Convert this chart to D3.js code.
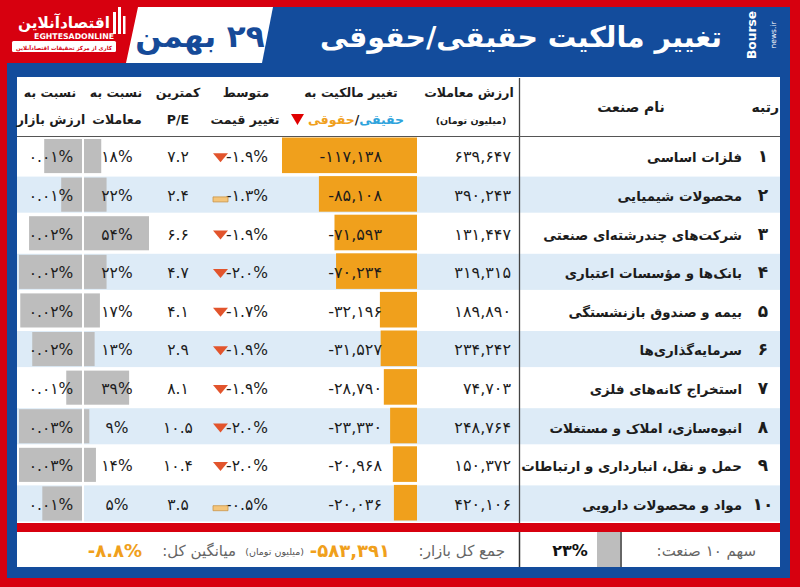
<!DOCTYPE html>
<html><head><meta charset="utf-8">
<script src="https://cdn.jsdelivr.net/npm/d3@7"></script>
<style>
body{margin:0;background:#d7000f}
svg{display:block}
text{font-family:"DejaVu Sans",sans-serif}
</style>
</head><body>
<svg id="c" width="800" height="587"></svg>
<script>
// ---------------- DATA ----------------
const ranks = [1,2,3,4,5,6,7,8,9,10];
const industries = [
  "فلزات اساسی",
  "محصولات شیمیایی",
  "شرکت\u200cهای چندرشته\u200cای صنعتی",
  "بانک\u200cها و مؤسسات اعتباری",
  "بیمه و صندوق بازنشستگی",
  "سرمایه\u200cگذاری\u200cها",
  "استخراج کانه\u200cهای فلزی",
  "انبوه\u200cسازی، املاک و مستغلات",
  "حمل و نقل، انبارداری و ارتباطات",
  "مواد و محصولات دارویی"
];
const tradeValue = [639647, 390243, 131447, 319315, 189890, 234242, 74703, 248764, 150372, 420106];
const ownershipChange = [-117138, -85108, -71593, -70234, -32196, -31527, -28790, -23330, -20968, -20036];
const priceChange = [-1.9, -1.3, -1.9, -2.0, -1.7, -1.9, -1.9, -2.0, -2.0, -0.5];
const minPE = [7.2, 2.4, 6.6, 4.7, 4.1, 2.9, 8.1, 10.5, 10.4, 3.5];
const tradeRatio = [18, 22, 54, 22, 17, 13, 39, 9, 14, 5];
const marketRatio = [0.01, 0.01, 0.02, 0.02, 0.02, 0.02, 0.01, 0.03, 0.03, 0.01];
const marketBarWeight = [0.60, 0.33, 0.84, 1.00, 0.98, 0.79, 0.25, 1.00, 1.00, 0.63];
const dateLabel = "۲۹ بهمن";
const titleLabel = "تغییر مالکیت حقیقی/حقوقی";
const top10Share = 23;
const marketTotal = -583391;
const overallAvg = -8.8;

// ---------------- STYLE ----------------
const RED = "#d7000f", BLUE = "#134c9c", ORANGE = "#f0a01c", GRAY = "#bdbdbd",
      LBLUE = "#ddebf7", TXT = "#1c1c1c";
const fa = s => String(s).replace(/\u2212/g, "-").replace(/[0-9]/g, d => "۰۱۲۳۴۵۶۷۸۹"[d]);
const rtl = s => "\u200F" + s + "\u200F";
const fitW = (sel, w) => { const fs = +sel.attr("font-size"); const m = sel.node().getComputedTextLength(); if (m > 0) sel.attr("font-size", fs * w / m); return sel; };

const svg = d3.select("#c");

// background frames
svg.append("rect").attr("width", 800).attr("height", 587).attr("fill", RED);
svg.append("rect").attr("x", 7).attr("y", 63).attr("width", 783).attr("height", 515).attr("fill", BLUE);
svg.append("polygon").attr("points", "262,7 790,7 790,64 252,64").attr("fill", BLUE);
svg.append("polygon").attr("points", "138,7 273,7 262,63 126,63").attr("fill", "#fff");

// left logo
const lg = svg.append("g");
fitW(lg.append("text").attr("x", 110).attr("y", 28).attr("text-anchor", "end")
  .attr("font-size", 22).attr("font-weight", "bold").attr("fill", "#fff").text("اقتصادآنلاین"), 92);
[[113,12,3,22],[118,7,3,27],[123,16,2.5,18]].forEach(r =>
  lg.append("rect").attr("x", r[0]).attr("y", r[1]).attr("width", r[2]).attr("height", r[3]).attr("fill", "#fff"));
fitW(lg.append("text").attr("x", 114).attr("y", 38.5).attr("text-anchor", "end")
  .attr("font-size", 8.5).attr("font-weight", "bold").attr("fill", "#fff").attr("font-family", "Roboto").text("EGHTESADONLINE"), 80);
lg.append("rect").attr("x", 12).attr("y", 41).attr("width", 104).attr("height", 11).attr("rx", 1.5).attr("fill", "#fff");
fitW(lg.append("text").attr("x", 64).attr("y", 49.5).attr("text-anchor", "middle")
  .attr("font-size", 7.5).attr("font-weight", "bold").attr("fill", RED).text("کاری از مرکز تحقیقات اقتصادآنلاین"), 96);

// date
svg.append("text").attr("x", 200).attr("y", 47).attr("text-anchor", "middle")
  .attr("font-size", 31).attr("font-weight", "bold").attr("fill", "#164a98").text(rtl(dateLabel));

// title
fitW(svg.append("text").attr("x", 722).attr("y", 47).attr("text-anchor", "end")
  .attr("font-size", 36).attr("font-weight", "bold").attr("fill", "#fff").text(titleLabel), 402);

// right logo
const rg = svg.append("g").attr("fill", "#fff");
fitW(rg.append("text").attr("transform", "translate(756,35) rotate(-90)").attr("text-anchor", "middle")
  .attr("font-size", 16).attr("font-weight", "bold").text("Bourse"), 48);
rg.append("text").attr("transform", "translate(776,35) rotate(-90)").attr("text-anchor", "middle")
  .attr("font-size", 7.5).text("news.ir");

// table white
svg.append("rect").attr("x", 17).attr("y", 77).attr("width", 763).attr("height", 446).attr("fill", "#fff");
// red separator and footer
svg.append("rect").attr("x", 17).attr("y", 523).attr("width", 763).attr("height", 9).attr("fill", RED);
svg.append("rect").attr("x", 17).attr("y", 532).attr("width", 763).attr("height", 35).attr("fill", "#fff");

// ---------------- SCALES ----------------
const y = d3.scaleBand().domain(ranks).range([137, 523]);
const bw = y.bandwidth();
const xOwn = d3.scaleLinear().domain([0, d3.max(ownershipChange, d => -d)]).range([417, 282]);
const xTrade = d3.scaleLinear().domain(d3.extent(tradeRatio)).range([84, 149]);
const xMkt = d3.scaleLinear().domain([0, d3.max(marketBarWeight)]).range([82, 19]);

const rows = ranks.map((r, i) => ({r, i}));
const g = svg.append("g");

// row backgrounds
g.selectAll(".bg").data(rows.filter(d => d.r % 2 === 0)).join("rect")
  .attr("x", 17).attr("width", 763).attr("y", d => y(d.r) + 1).attr("height", bw - 2.5).attr("fill", LBLUE);

// market ratio bars (right anchored)
g.selectAll(".mb").data(rows).join("rect")
  .attr("x", d => xMkt(marketBarWeight[d.i])).attr("width", d => 82 - xMkt(marketBarWeight[d.i]))
  .attr("y", d => y(d.r) + 2).attr("height", bw - 4.5).attr("fill", GRAY);
g.append("rect").attr("x", 82).attr("y", 137).attr("width", 2).attr("height", 386).attr("fill", "#fff");
// trade ratio bars (left anchored)
g.selectAll(".tb").data(rows).join("rect")
  .attr("x", 84).attr("width", d => xTrade(tradeRatio[d.i]) - 84)
  .attr("y", d => y(d.r) + 2).attr("height", bw - 4.5).attr("fill", GRAY);
// ownership change bars
g.selectAll(".ob").data(rows).join("rect")
  .attr("x", d => xOwn(-ownershipChange[d.i])).attr("width", d => 417 - xOwn(-ownershipChange[d.i]))
  .attr("y", d => y(d.r) + 0.5).attr("height", bw - 3).attr("fill", ORANGE);

const base = d => y(d.r) + bw / 2 + 6;

// texts
g.selectAll(".mt").data(rows).join("text")
  .attr("x", 51).attr("y", base).attr("text-anchor", "middle").attr("font-size", 15.5).attr("fill", TXT)
  .text(d => fa(marketRatio[d.i].toFixed(2)) + "%");
g.selectAll(".tt").data(rows).join("text")
  .attr("x", 117).attr("y", base).attr("text-anchor", "middle").attr("font-size", 15.5).attr("fill", TXT)
  .text(d => fa(tradeRatio[d.i]) + "%");
g.selectAll(".pe").data(rows).join("text")
  .attr("x", 178).attr("y", base).attr("text-anchor", "middle").attr("font-size", 15.5).attr("fill", TXT)
  .text(d => fa(minPE[d.i].toFixed(1)));
g.selectAll(".pc").data(rows).join("text")
  .attr("x", 268).attr("y", base).attr("text-anchor", "end").attr("font-size", 15.5).attr("fill", TXT)
  .text(d => fa(d3.format(".1f")(priceChange[d.i])) + "%");
g.selectAll(".ic").data(rows).join("path")
  .attr("d", d => {
    const cy = y(d.r) + bw / 2;
    return priceChange[d.i] < -1.5
      ? `M213,${cy - 3}L228,${cy - 3}L220.5,${cy + 6}Z`
      : `M213,${cy + 2}h15v5h-15Z`;
  })
  .attr("fill", d => priceChange[d.i] < -1.5 ? "#e2542c" : "#f4c57a")
  .attr("stroke", d => priceChange[d.i] < -1.5 ? "none" : "#c9954a").attr("stroke-width", 0.8);
g.selectAll(".oc").data(rows).join("text")
  .attr("x", 382).attr("y", base).attr("text-anchor", "end").attr("font-size", 16).attr("fill", TXT)
  .text(d => fa(d3.format(",")(ownershipChange[d.i])));
g.selectAll(".tv").data(rows).join("text")
  .attr("x", 511).attr("y", base).attr("text-anchor", "end").attr("font-size", 16).attr("fill", TXT)
  .text(d => fa(d3.format(",")(tradeValue[d.i])));
const names = g.selectAll(".nm").data(rows).join("text")
  .attr("x", 742).attr("y", base).attr("text-anchor", "end").attr("font-size", 15).attr("font-weight", "bold").attr("fill", TXT)
  .text(d => industries[d.i]);
{ let mw = 0; names.each(function(){ mw = Math.max(mw, this.getComputedTextLength()); });
  if (mw > 0) names.attr("font-size", 15 * 221 / mw); }
g.selectAll(".rk").data(rows).join("text")
  .attr("x", 763).attr("y", base).attr("text-anchor", "middle").attr("font-size", 17).attr("font-weight", "bold").attr("fill", TXT)
  .text(d => fa(d.r));

// header lines
svg.append("line").attr("x1", 519.5).attr("x2", 519.5).attr("y1", 78).attr("y2", 523).attr("stroke", "#444").attr("stroke-width", 1.3);
svg.append("line").attr("x1", 17).attr("x2", 780).attr("y1", 136.5).attr("y2", 136.5).attr("stroke", "#555").attr("stroke-width", 1.2);

// header texts
const H = svg.append("g").attr("font-weight", "bold").attr("fill", TXT).attr("text-anchor", "middle").attr("font-size", 12.5);
const ht = (x, yy, t, fs) => H.append("text").attr("x", x).attr("y", yy).attr("font-size", fs || 12.5).text(t);
ht(50, 97, "نسبت به"); ht(51, 124, "ارزش بازار");
ht(116, 97, "نسبت به"); ht(117, 124, "معاملات");
ht(178, 97, "کمترین"); ht(178, 124, "P/E");
ht(246, 97, "متوسط"); ht(245, 124, "تغییر قیمت");
ht(351, 97, "تغییر مالکیت به");
ht(469, 97, "ارزش معاملات"); ht(471, 124, rtl("(میلیون تومان)"), 9.5);
ht(631, 112, "نام صنعت", 14);
H.append("text").attr("x", 779).attr("y", 112).attr("text-anchor", "end").attr("font-size", 14).text("رتبه");
let xx = 404;
const seg = (t, c) => { const n = H.append("text").attr("x", xx).attr("y", 124).attr("text-anchor", "end").attr("fill", c).text(t); xx -= n.node().getComputedTextLength(); };
seg("حقیقی", "#2ea3dc"); seg("/", TXT); seg("حقوقی", ORANGE);
H.append("path").attr("d", `M${xx - 17},114h13l-6.5,11Z`).attr("fill", "#e00000");

// footer
const F = svg.append("g");
F.append("text").attr("x", 756).attr("y", 556).attr("text-anchor", "end").attr("font-size", 15).attr("fill", "#666").text(rtl("سهم " + fa(10) + " صنعت:"));
F.append("rect").attr("x", 597).attr("y", 532).attr("width", 23).attr("height", 35).attr("fill", GRAY);
F.append("line").attr("x1", 621).attr("x2", 621).attr("y1", 532).attr("y2", 567).attr("stroke", "#333").attr("stroke-width", 1.5);
F.append("line").attr("x1", 519.5).attr("x2", 519.5).attr("y1", 532).attr("y2", 567).attr("stroke", "#333").attr("stroke-width", 1.5);
F.append("text").attr("x", 570).attr("y", 556).attr("text-anchor", "middle").attr("font-size", 16).attr("font-weight", "bold").attr("fill", "#111").text(fa(top10Share) + "%");
F.append("text").attr("x", 505).attr("y", 556).attr("text-anchor", "end").attr("font-size", 15).attr("fill", "#666").text(rtl("جمع کل بازار:"));
F.append("text").attr("x", 390).attr("y", 557).attr("text-anchor", "end").attr("font-size", 18).attr("font-weight", "bold").attr("fill", ORANGE).text(fa(d3.format(",")(marketTotal)));
F.append("text").attr("x", 304).attr("y", 555).attr("text-anchor", "end").attr("font-size", 9.5).attr("fill", "#555").text(rtl("(میلیون تومان)"));
F.append("text").attr("x", 236).attr("y", 556).attr("text-anchor", "end").attr("font-size", 15).attr("fill", "#666").text(rtl("میانگین کل:"));
F.append("text").attr("x", 142).attr("y", 557).attr("text-anchor", "end").attr("font-size", 18).attr("font-weight", "bold").attr("fill", ORANGE).text(fa(d3.format(".1f")(overallAvg)) + "%");
</script>
</body></html>
